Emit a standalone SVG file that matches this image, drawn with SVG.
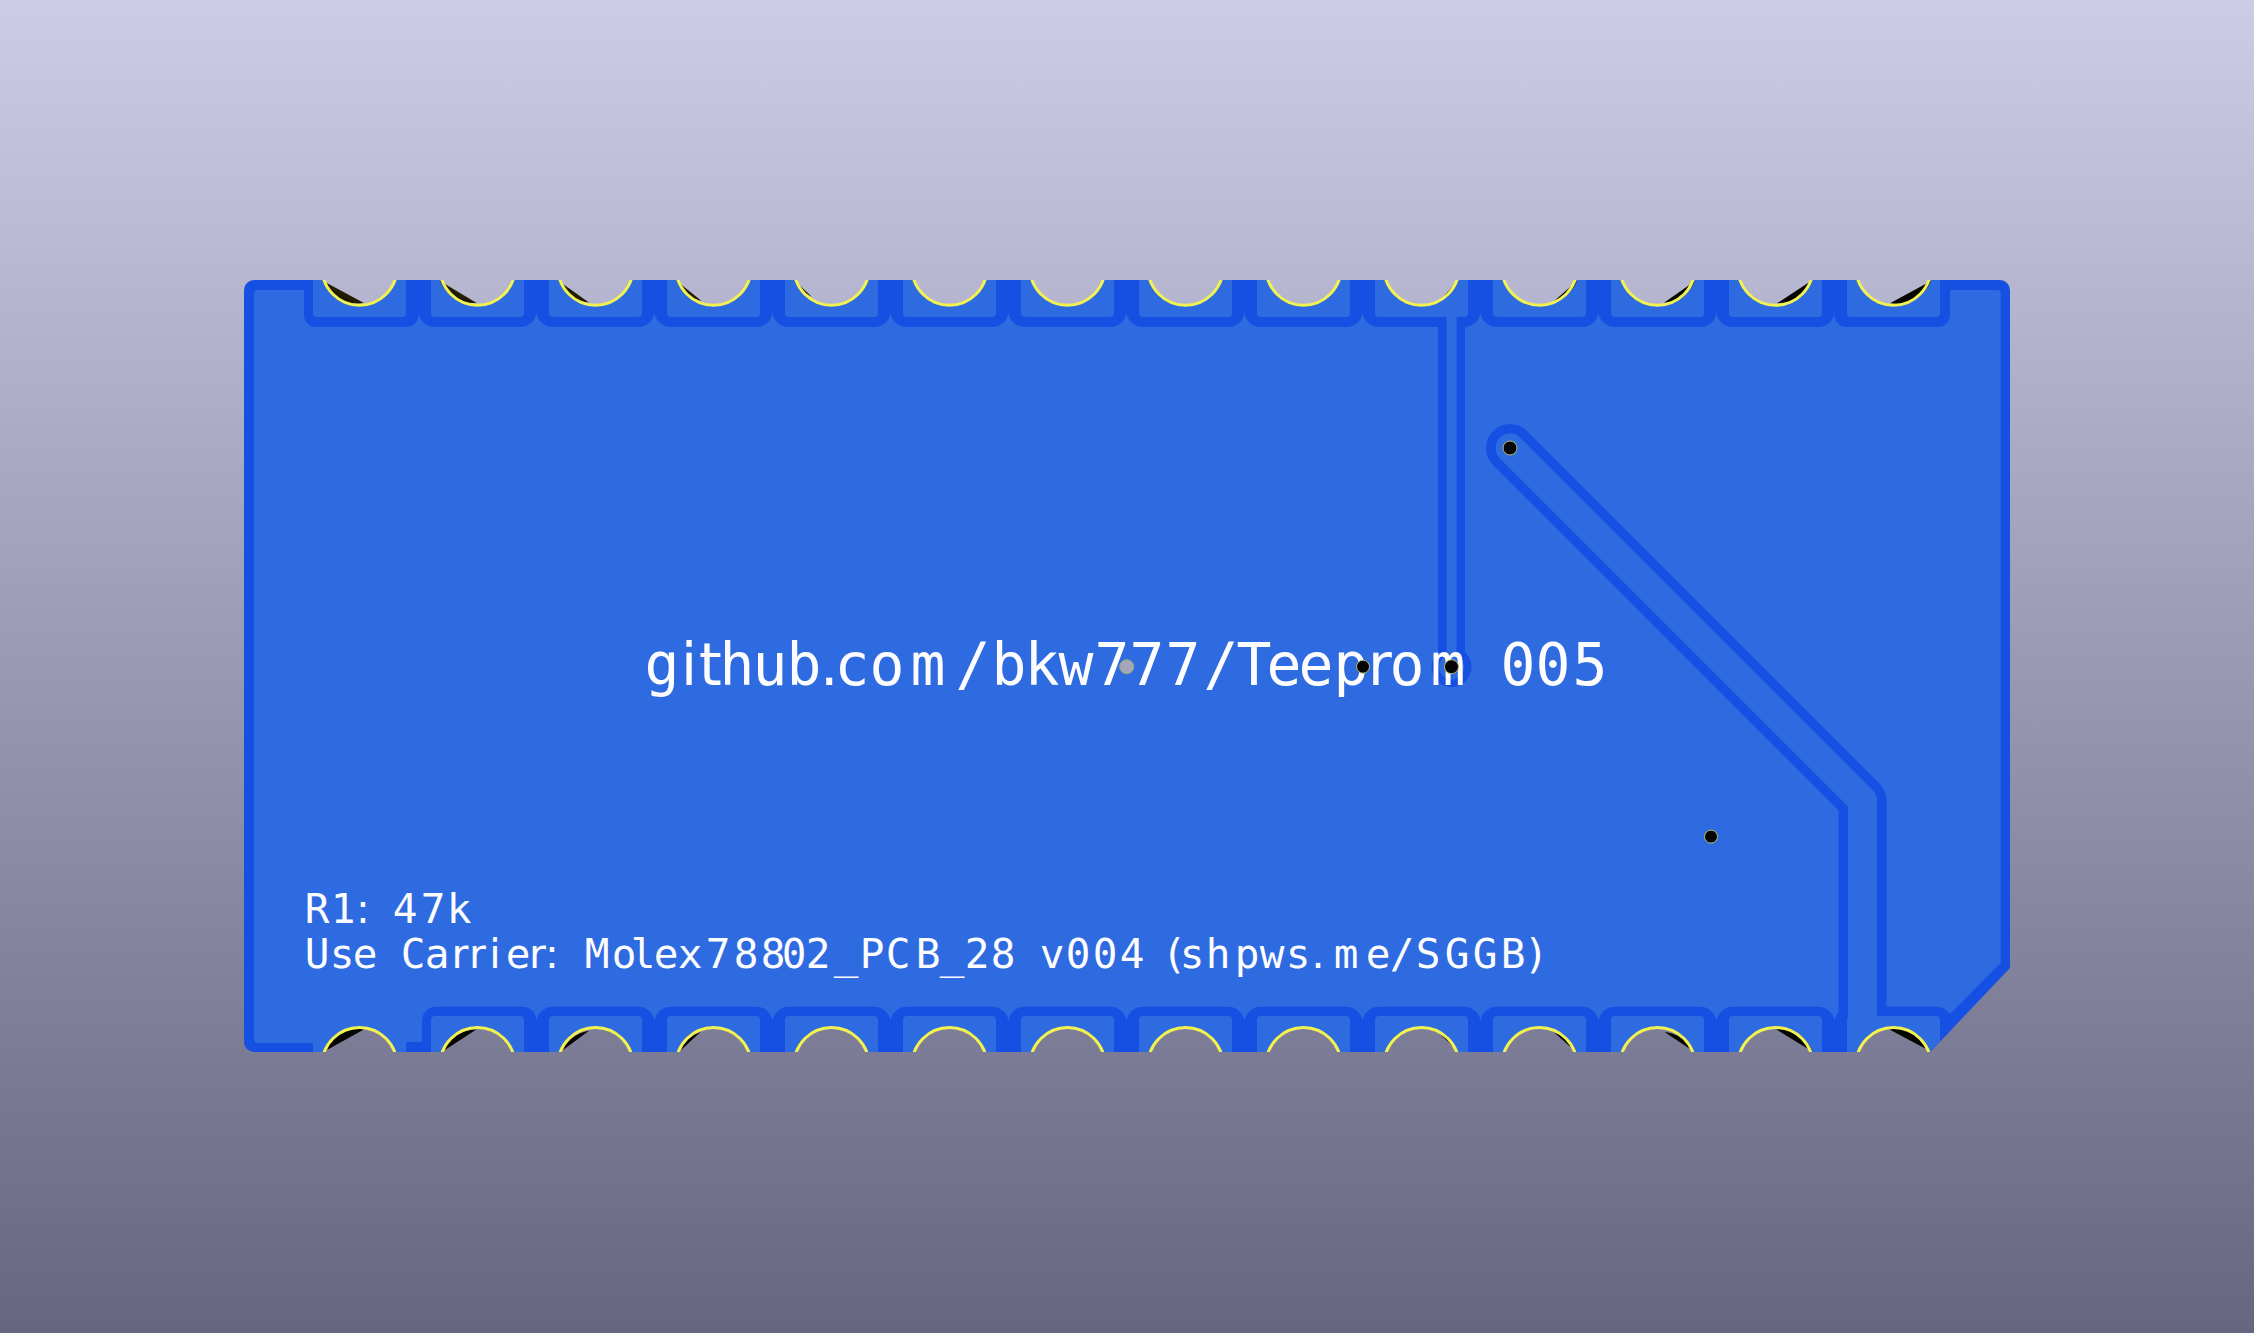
<svg xmlns="http://www.w3.org/2000/svg" width="2254" height="1333" viewBox="0 0 2254 1333">
<style>
.dark{fill:#1550e3}
.light{fill:#2f6be0}
.hole{fill:url(#bg)}
.ring{fill:none;stroke:#f2f250;stroke-width:3}
.olive{fill:url(#olive)}
.blk{fill:#060500}
.via{fill:#050505;stroke:#b8c070;stroke-width:1}
.t{font-family:"DejaVu Sans Mono","Liberation Mono",monospace;fill:#fdfdff}
.s{font-family:"DejaVu Sans","Liberation Sans",sans-serif}
.t1{font-size:58px}
.t2{font-size:41px}
.tr{fill:none;stroke-linejoin:round;stroke-linecap:round}
</style>
<defs>
<linearGradient id="bg" gradientUnits="userSpaceOnUse" x1="0" y1="0" x2="0" y2="1333"><stop offset="0" stop-color="#ccccE6"/><stop offset="1" stop-color="#666680"/></linearGradient>
<linearGradient id="olive" x1="0" y1="1" x2="1" y2="0"><stop offset="0" stop-color="#0a0800"/><stop offset="0.6" stop-color="#2a2300"/><stop offset="1" stop-color="#5a4c08"/></linearGradient>
<clipPath id="bc"><path d="M254,280H2000a10,10 0 0 1 10,10V968L1930,1052H254a10,10 0 0 1 -10,-10V290a10,10 0 0 1 10,-10Z"/></clipPath>
<rect id="ct" class="dark" y="240" width="118" height="87" rx="16"/>
<rect id="cb" class="dark" y="1006.7" width="118" height="87" rx="16"/>
<rect id="gt" class="dark" y="270" width="25" height="43"/>
<rect id="gb" class="dark" y="1020" width="25" height="40"/>
<rect id="pt" class="light" y="260" width="93" height="57" rx="4"/>
<rect id="pb" class="light" y="1016" width="93" height="60" rx="4"/>
<circle id="r" class="ring" r="37.5"/>
</defs>
<rect width="2254" height="1333" fill="url(#bg)"/>
<g id="board">
<path class="dark" d="M254,280H2000a10,10 0 0 1 10,10V968L1930,1052H254a10,10 0 0 1 -10,-10V290a10,10 0 0 1 10,-10Z"/>
<path class="light" d="M258,290H1997a3.7,3.7 0 0 1 3.7,3.7V963L1950,1014H1900V1043H406V1052H313V1043H258a4,4 0 0 1 -4,-4V294a4,4 0 0 1 4,-4Z"/>
</g>
<g id="copper" clip-path="url(#bc)">
<g id="clearance-top">
<rect class="dark" x="304" y="240" width="114.5" height="87" rx="12"/>
<use href="#ct" x="418.5"/><use href="#ct" x="536.5"/><use href="#ct" x="654.5"/><use href="#ct" x="772.5"/><use href="#ct" x="890.5"/><use href="#ct" x="1008.5"/><use href="#ct" x="1126.5"/><use href="#ct" x="1244.5"/><use href="#ct" x="1362.5"/><use href="#ct" x="1480.5"/><use href="#ct" x="1598.5"/><use href="#ct" x="1716.5"/>
<rect class="dark" x="1834.5" y="240" width="115.5" height="87" rx="12"/>
<use href="#gt" x="406"/><use href="#gt" x="524"/><use href="#gt" x="642"/><use href="#gt" x="760"/><use href="#gt" x="878"/><use href="#gt" x="996"/><use href="#gt" x="1114"/><use href="#gt" x="1232"/><use href="#gt" x="1350"/><use href="#gt" x="1468"/><use href="#gt" x="1586"/><use href="#gt" x="1704"/><use href="#gt" x="1822"/>
</g>
<g id="clearance-bottom">
<rect class="dark" x="422" y="1006.7" width="114.5" height="87" rx="14"/>
<use href="#cb" x="536.5"/><use href="#cb" x="654.5"/><use href="#cb" x="772.5"/><use href="#cb" x="890.5"/><use href="#cb" x="1008.5"/><use href="#cb" x="1126.5"/><use href="#cb" x="1244.5"/><use href="#cb" x="1362.5"/><use href="#cb" x="1480.5"/><use href="#cb" x="1598.5"/><use href="#cb" x="1716.5"/><use href="#cb" x="1834.5"/>
<rect class="dark" x="406" y="1042" width="20" height="12"/>
<use href="#gb" x="524"/><use href="#gb" x="642"/><use href="#gb" x="760"/><use href="#gb" x="878"/><use href="#gb" x="996"/><use href="#gb" x="1114"/><use href="#gb" x="1232"/><use href="#gb" x="1350"/><use href="#gb" x="1468"/><use href="#gb" x="1586"/><use href="#gb" x="1704"/><use href="#gb" x="1822"/>
</g>
<g id="connectors">
<path class="tr" stroke="#1550e3" stroke-width="27" stroke-linecap="butt" d="M1451.5,320V667"/>
<circle class="dark" cx="1451.5" cy="667" r="20"/>
<path class="tr" stroke="#1550e3" stroke-width="48" d="M1510,448L1862.5,800.5V1070"/>
</g>
<g id="pads-top">
<use href="#pt" x="313"/><use href="#pt" x="431"/><use href="#pt" x="549"/><use href="#pt" x="667"/><use href="#pt" x="785"/><use href="#pt" x="903"/><use href="#pt" x="1021"/><use href="#pt" x="1139"/><use href="#pt" x="1257"/><use href="#pt" x="1375"/><use href="#pt" x="1493"/><use href="#pt" x="1611"/><use href="#pt" x="1729"/><use href="#pt" x="1847"/>
</g>
<g id="pads-bottom">
<use href="#pb" x="431"/><use href="#pb" x="549"/><use href="#pb" x="667"/><use href="#pb" x="785"/><use href="#pb" x="903"/><use href="#pb" x="1021"/><use href="#pb" x="1139"/><use href="#pb" x="1257"/><use href="#pb" x="1375"/><use href="#pb" x="1493"/><use href="#pb" x="1611"/><use href="#pb" x="1729"/><use href="#pb" x="1847"/>
</g>
<g id="traces">
<path class="tr" stroke="#2f6be0" stroke-width="10" stroke-linecap="butt" d="M1451.5,312V667"/>
<circle class="light" cx="1451.5" cy="667" r="12.5"/>
<path class="tr" stroke="#2f6be0" stroke-width="29" d="M1510,448L1862.5,800.5V1070"/>
</g>
<g id="holes-top">
<g id="t1"><circle class="hole" r="37.5" cx="359.5" cy="267.7"/><path class="olive" d="M323,281L364,303A37,37 0 0 1 323,281Z"/><use href="#r" x="359.5" y="267.7"/></g>
<g id="t2"><circle class="hole" r="37.5" cx="477.5" cy="267.7"/><path class="olive" d="M440,281L476.7,303A37,37 0 0 1 440,281Z"/><use href="#r" x="477.5" y="267.7"/></g>
<g id="t3"><circle class="hole" r="37.5" cx="595.5" cy="267.7"/><path class="olive" d="M558.7,281L589,302.5A37,37 0 0 1 558.7,281Z"/><use href="#r" x="595.5" y="267.7"/></g>
<g id="t4"><circle class="hole" r="37.5" cx="713.5" cy="267.7"/><path class="olive" d="M676.7,281L701.7,301A37,37 0 0 1 676.7,281Z"/><use href="#r" x="713.5" y="267.7"/></g>
<g id="t5"><circle class="hole" r="37.5" cx="831.5" cy="267.7"/><path class="olive" d="M795,281L812,297A37,37 0 0 1 795,281Z"/><use href="#r" x="831.5" y="267.7"/></g>
<g id="t6"><circle class="hole" r="37.5" cx="949.5" cy="267.7"/><use href="#r" x="949.5" y="267.7"/></g>
<g id="t7"><circle class="hole" r="37.5" cx="1067.5" cy="267.7"/><use href="#r" x="1067.5" y="267.7"/></g>
<g id="t8"><circle class="hole" r="37.5" cx="1185.5" cy="267.7"/><use href="#r" x="1185.5" y="267.7"/></g>
<g id="t9"><circle class="hole" r="37.5" cx="1303.5" cy="267.7"/><use href="#r" x="1303.5" y="267.7"/></g>
<g id="t10"><circle class="hole" r="37.5" cx="1421.5" cy="267.7"/><path class="blk" d="M1458,281L1443,297A37,37 0 0 0 1458,281Z"/><use href="#r" x="1421.5" y="267.7"/></g>
<g id="t11"><circle class="hole" r="37.5" cx="1539.5" cy="267.7"/><path class="blk" d="M1577,281L1553,302A37,37 0 0 0 1577,281Z"/><use href="#r" x="1539.5" y="267.7"/></g>
<g id="t12"><circle class="hole" r="37.5" cx="1657.5" cy="267.7"/><path class="blk" d="M1695,281L1664,302.7A37,37 0 0 0 1695,281Z"/><use href="#r" x="1657.5" y="267.7"/></g>
<g id="t13"><circle class="hole" r="37.5" cx="1775.5" cy="267.7"/><path class="blk" d="M1811,281L1777,303.3A37,37 0 0 0 1811,281Z"/><use href="#r" x="1775.5" y="267.7"/></g>
<g id="t14"><circle class="hole" r="37.5" cx="1893.5" cy="267.7"/><path class="blk" d="M1931,281L1890,303.3A37,37 0 0 0 1931,281Z"/><use href="#r" x="1893.5" y="267.7"/></g>
</g>
<g id="holes-bottom">
<g id="b1"><circle class="hole" r="37.5" cx="359.5" cy="1065"/><path class="blk" d="M325,1051L364.3,1029.3A37,37 0 0 0 325,1051Z"/><use href="#r" x="359.5" y="1065"/></g>
<g id="b2"><circle class="hole" r="37.5" cx="477.5" cy="1065"/><path class="blk" d="M443.3,1051L476.7,1029.3A37,37 0 0 0 443.3,1051Z"/><use href="#r" x="477.5" y="1065"/></g>
<g id="b3"><circle class="hole" r="37.5" cx="595.5" cy="1065"/><path class="blk" d="M561.7,1051L589,1030.7A37,37 0 0 0 561.7,1051Z"/><use href="#r" x="595.5" y="1065"/></g>
<g id="b4"><circle class="hole" r="37.5" cx="713.5" cy="1065"/><path class="blk" d="M680,1051L700.7,1031.7A37,37 0 0 0 680,1051Z"/><use href="#r" x="713.5" y="1065"/></g>
<g id="b5"><circle class="hole" r="37.5" cx="831.5" cy="1065"/><path class="blk" d="M796,1048L812,1033A37,37 0 0 0 796,1048Z"/><use href="#r" x="831.5" y="1065"/></g>
<g id="b6"><circle class="hole" r="37.5" cx="949.5" cy="1065"/><use href="#r" x="949.5" y="1065"/></g>
<g id="b7"><circle class="hole" r="37.5" cx="1067.5" cy="1065"/><use href="#r" x="1067.5" y="1065"/></g>
<g id="b8"><circle class="hole" r="37.5" cx="1185.5" cy="1065"/><use href="#r" x="1185.5" y="1065"/></g>
<g id="b9"><circle class="hole" r="37.5" cx="1303.5" cy="1065"/><use href="#r" x="1303.5" y="1065"/></g>
<g id="b10"><circle class="hole" r="37.5" cx="1421.5" cy="1065"/><path class="blk" d="M1458,1051L1441,1035A37,37 0 0 1 1458,1051Z"/><use href="#r" x="1421.5" y="1065"/></g>
<g id="b11"><circle class="hole" r="37.5" cx="1539.5" cy="1065"/><path class="blk" d="M1575,1051L1553.6,1032A37,37 0 0 1 1575,1051Z"/><use href="#r" x="1539.5" y="1065"/></g>
<g id="b12"><circle class="hole" r="37.5" cx="1657.5" cy="1065"/><path class="blk" d="M1693,1051L1664.6,1032A37,37 0 0 1 1693,1051Z"/><use href="#r" x="1657.5" y="1065"/></g>
<g id="b13"><circle class="hole" r="37.5" cx="1775.5" cy="1065"/><path class="blk" d="M1812.7,1051.7L1776,1029.3A37,37 0 0 1 1812.7,1051.7Z"/><use href="#r" x="1775.5" y="1065"/></g>
<g id="b14"><circle class="hole" r="37.5" cx="1893.5" cy="1065"/><path class="blk" d="M1928,1050L1889,1029.3A37,37 0 0 1 1928,1050Z"/><use href="#r" x="1893.5" y="1065"/></g>
</g>
</g>
<g id="labels">
<text class="t t1" y="685" x="644.5 681 699 719.5 752.5 786.5 820 834.5 869.5 910.5 955.5 991.5 1024.5 1058.5 1094.5 1129.5 1165.5 1203.5 1236.5 1266.5 1298.5 1333.5 1368 1389.5 1430.5 1480 1500.5 1535.5 1572.5">g<tspan class="s">it</tspan>hub<tspan class="s">.</tspan>com/bkw777/Teep<tspan class="s">r</tspan>om 005</text>
<text class="t t2" y="923" x="304.7 330.7 356 375 392.7 420.7 446.7">R1<tspan class="s">:</tspan> 47k</text>
<text class="t t2" y="968" x="304.7 329.7 352.7 380 400.7 424.7 451.5 469 489.3 505.7 529 545 560 584.7 611.7 630.7 653.7 677.7 705.7 733.7 760.7 781.7 805.7 833.7 859.7 885.7 915.7 939.7 964.7 990.7 1015 1039.7 1065.7 1092.7 1119.7 1145 1161.7 1179.7 1205.7 1234.7 1259.7 1285.7 1311.5 1333.7 1365.7 1389.7 1415.7 1444.7 1472.7 1500.7 1523.7">Use Ca<tspan class="s">rri</tspan>e<tspan class="s">r:</tspan> Molex78802_PCB_28 v004 (shpws<tspan class="s">.</tspan>me/SGGB)</text>
</g>
<g id="vias">
<circle id="via-a" class="via" cx="1510" cy="448" r="7"/>
<circle id="via-b" class="via" cx="1363" cy="666.7" r="6.5"/>
<circle id="via-c" class="via" cx="1451.5" cy="666.7" r="7"/>
<circle id="via-d" class="via" cx="1711" cy="836.6" r="6.5"/>
<circle id="via-e" cx="1126.7" cy="666.7" r="7" fill="#a5a5bb" stroke="#9ab060" stroke-width="1"/>
</g>
</svg>
